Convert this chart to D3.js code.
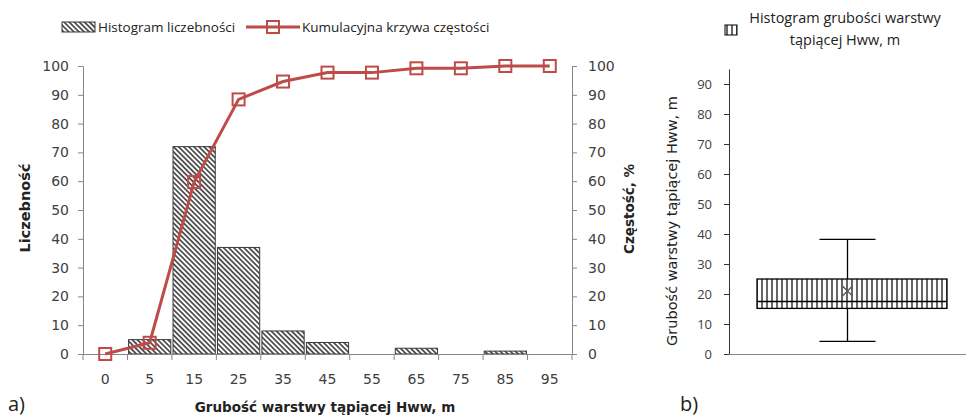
<!DOCTYPE html>
<html>
<head>
<meta charset="utf-8">
<script src="https://cdn.jsdelivr.net/npm/d3@7"></script>
<style>
  body { margin: 0; background: #fff; }
  svg text { font-family: "Open Sans", sans-serif; }
  svg text.wide { font-family: "DejaVu Sans", sans-serif; }
</style>
</head>
<body>
<div id="chart"></div>
<script>
// histogram data
const categories = ["0", "5", "15", "25", "35", "45", "55", "65", "75", "85", "95"];
const counts = [0, 5, 72, 37, 8, 4, 0, 2, 0, 1, 0];
const cumulative = [0, 3.9, 59.7, 88.4, 94.6, 97.7, 97.7, 99.2, 99.2, 100, 100];
const leftTicks = [0, 10, 20, 30, 40, 50, 60, 70, 80, 90, 100];

// box plot data, Hww in m
const boxStats = [{min: 4.2, q1: 15.2, median: 17.5, q3: 25, max: 38.2, mean: 21}];
const boxTicks = [0, 10, 20, 30, 40, 50, 60, 70, 80, 90];

const W = 966, H = 417;
const axisColor = "#868686", textColor = "#404040", lineColor = "#be4b48";

const svg = d3.select("#chart").append("svg")
  .attr("width", W).attr("height", H);

const defs = svg.append("defs");
let diag = defs.append("pattern").attr("id", "diag")
  .attr("patternUnits", "userSpaceOnUse")
  .attr("width", 3.6).attr("height", 3.6)
  .attr("patternTransform", "rotate(-45)");
diag.append("rect").attr("width", 3.6).attr("height", 3.6).attr("fill", "#fff");
diag.append("line").attr("x1", 0.9).attr("y1", 0).attr("x2", 0.9).attr("y2", 3.6)
  .attr("stroke", "#3a3a3a").attr("stroke-width", 1.6);

let vert = defs.append("pattern").attr("id", "vert")
  .attr("patternUnits", "userSpaceOnUse")
  .attr("width", 5).attr("height", 5);
vert.append("rect").attr("width", 5).attr("height", 5).attr("fill", "#fff");
vert.append("line").attr("x1", 2).attr("y1", 0).attr("x2", 2).attr("y2", 5)
  .attr("stroke", "#000").attr("stroke-width", 1.2);

// ---------- a) histogram + cumulative curve ----------
const x = d3.scaleBand().domain(categories).range([83, 572]).paddingInner(0.05).paddingOuter(0.025);
const yL = d3.scaleLinear().domain([0, 100]).range([354, 66]);
const yR = d3.scaleLinear().domain([0, 100]).range([354, 66]);

let gLeft = svg.append("g").attr("transform", "translate(83,0)")
  .call(d3.axisLeft(yL).tickValues(leftTicks).tickSize(5).tickPadding(9).tickSizeOuter(0));
let gRight = svg.append("g").attr("transform", "translate(572,0)")
  .call(d3.axisRight(yR).tickValues(leftTicks).tickSize(5).tickPadding(11).tickSizeOuter(0));
[gLeft, gRight].forEach(g => {
  g.select(".domain").attr("stroke", axisColor);
  g.selectAll(".tick line").attr("stroke", axisColor);
  g.selectAll(".tick text").attr("class", "wide").attr("fill", textColor).style("font-size", "14px");
});

// bars
svg.append("g").selectAll("rect")
  .data(categories)
  .join("rect")
  .filter((d, i) => counts[i] > 0)
  .attr("x", d => x(d))
  .attr("y", d => yL(counts[categories.indexOf(d)]))
  .attr("width", x.bandwidth())
  .attr("height", d => yL(0) - yL(counts[categories.indexOf(d)]))
  .attr("fill", "url(#diag)")
  .attr("stroke", "#3a3a3a").attr("stroke-width", 1);

// x axis: labels at centres, ticks at bin edges
let gX = svg.append("g").attr("transform", "translate(0,354)")
  .call(d3.axisBottom(x).tickSize(0).tickPadding(20));
gX.select(".domain").attr("stroke", axisColor).attr("d", "M83,0.5H572");
gX.selectAll(".tick text").attr("class", "wide").attr("fill", textColor).style("font-size", "14px");
gX.selectAll(".edge").data(d3.range(categories.length + 1)).join("line")
  .attr("class", "edge")
  .attr("x1", i => 83 + i * (572 - 83) / categories.length)
  .attr("x2", i => 83 + i * (572 - 83) / categories.length)
  .attr("y1", 0).attr("y2", 6)
  .attr("stroke", axisColor);

// cumulative line
const line = d3.line().x((d, i) => x(categories[i]) + x.bandwidth() / 2).y(d => yR(d));
svg.append("path").datum(cumulative)
  .attr("d", line).attr("fill", "none")
  .attr("stroke", lineColor).attr("stroke-width", 3);
svg.append("g").selectAll("rect")
  .data(cumulative)
  .join("rect")
  .attr("x", (d, i) => x(categories[i]) + x.bandwidth() / 2 - 6)
  .attr("y", d => yR(d) - 6)
  .attr("width", 12).attr("height", 12)
  .attr("fill", "none").attr("stroke", lineColor).attr("stroke-width", 2);

// axis titles
svg.append("text").attr("class", "wide").attr("transform", "translate(30,208) rotate(-90)")
  .attr("text-anchor", "middle").style("font-size", "14.5px").style("font-weight", "bold")
  .attr("fill", "#222").text("Liczebność");
svg.append("text").attr("class", "wide").attr("transform", "translate(634,209) rotate(-90)")
  .attr("text-anchor", "middle").style("font-size", "13.5px").style("font-weight", "bold")
  .attr("fill", "#222").text("Częstość, %");
svg.append("text").attr("class", "wide").attr("x", 325).attr("y", 412)
  .attr("text-anchor", "middle").style("font-size", "13.5px").style("font-weight", "bold")
  .attr("fill", "#222").text("Grubość warstwy tąpiącej Hww, m");
svg.append("text").attr("x", 8).attr("y", 411)
  .style("font-size", "20px").attr("fill", "#222").text("a)");

// legend
svg.append("rect").attr("x", 62).attr("y", 22).attr("width", 33).attr("height", 10)
  .attr("fill", "url(#diag)").attr("stroke", "#3a3a3a");
svg.append("text").attr("x", 98).attr("y", 32).style("font-size", "13.5px")
  .attr("fill", "#222").text("Histogram liczebności");
svg.append("line").attr("x1", 246).attr("x2", 300).attr("y1", 27).attr("y2", 27)
  .attr("stroke", lineColor).attr("stroke-width", 3);
svg.append("rect").attr("x", 267).attr("y", 21).attr("width", 12).attr("height", 12)
  .attr("fill", "none").attr("stroke", lineColor).attr("stroke-width", 2);
svg.append("text").attr("x", 302).attr("y", 32).style("font-size", "13.5px")
  .attr("fill", "#222").text("Kumulacyjna krzywa częstości");

// ---------- b) box plot ----------
const yB = d3.scaleLinear().domain([0, 95]).range([354, 69]);
const xB = d3.scaleBand().domain(["Hww"]).range([729, 966]).padding(0.1);

let gB = svg.append("g").attr("transform", "translate(729,0)")
  .call(d3.axisLeft(yB).tickValues(boxTicks).tickSize(5).tickPadding(12).tickSizeOuter(0));
gB.select(".domain").attr("stroke", "#333");
gB.selectAll(".tick line").attr("stroke", "#333");
gB.selectAll(".tick text").attr("fill", textColor).style("font-size", "13px");
svg.append("line").attr("x1", 729).attr("x2", 966).attr("y1", 354.5).attr("y2", 354.5)
  .attr("stroke", axisColor);

let box = svg.append("g").selectAll("g").data(boxStats).join("g");
const cx = xB("Hww") + xB.bandwidth() / 2;
box.append("line").attr("x1", cx).attr("x2", cx)
  .attr("y1", d => yB(d.max)).attr("y2", d => yB(d.min)).attr("stroke", "#000").attr("stroke-width", 1.3);
box.append("line").attr("x1", cx - 28).attr("x2", cx + 28)
  .attr("y1", d => yB(d.max)).attr("y2", d => yB(d.max)).attr("stroke", "#000").attr("stroke-width", 1.3);
box.append("line").attr("x1", cx - 28).attr("x2", cx + 28)
  .attr("y1", d => yB(d.min)).attr("y2", d => yB(d.min)).attr("stroke", "#000").attr("stroke-width", 1.3);
box.append("rect").attr("x", 757).attr("width", 190)
  .attr("y", d => yB(d.q3)).attr("height", d => yB(d.q1) - yB(d.q3))
  .attr("fill", "url(#vert)").attr("stroke", "#000").attr("stroke-width", 1.3);
box.append("line").attr("x1", 757).attr("x2", 947)
  .attr("y1", d => yB(d.median)).attr("y2", d => yB(d.median)).attr("stroke", "#000").attr("stroke-width", 1.3);
box.append("path")
  .attr("d", d => `M${cx - 5},${yB(d.mean) - 5}L${cx + 5},${yB(d.mean) + 5}M${cx + 5},${yB(d.mean) - 5}L${cx - 5},${yB(d.mean) + 5}`)
  .attr("stroke", "#555").attr("stroke-width", 1.3);

svg.append("text").attr("class", "wide").attr("transform", "translate(677,221) rotate(-90)")
  .attr("text-anchor", "middle").style("font-size", "14.5px")
  .attr("fill", "#222").text("Grubość warstwy tąpiącej Hww, m");
svg.append("text").attr("x", 680).attr("y", 411)
  .style("font-size", "20px").attr("fill", "#222").text("b)");

// legend b
svg.append("rect").attr("x", 725).attr("y", 25).attr("width", 12).attr("height", 10)
  .attr("fill", "url(#vert)").attr("stroke", "#000");
svg.append("text").attr("x", 845).attr("y", 23).attr("text-anchor", "middle")
  .style("font-size", "14.5px").attr("fill", "#222").text("Histogram grubości warstwy");
svg.append("text").attr("x", 845).attr("y", 45).attr("text-anchor", "middle")
  .style("font-size", "14.5px").attr("fill", "#222").text("tąpiącej Hww, m");
</script>
</body>
</html>
